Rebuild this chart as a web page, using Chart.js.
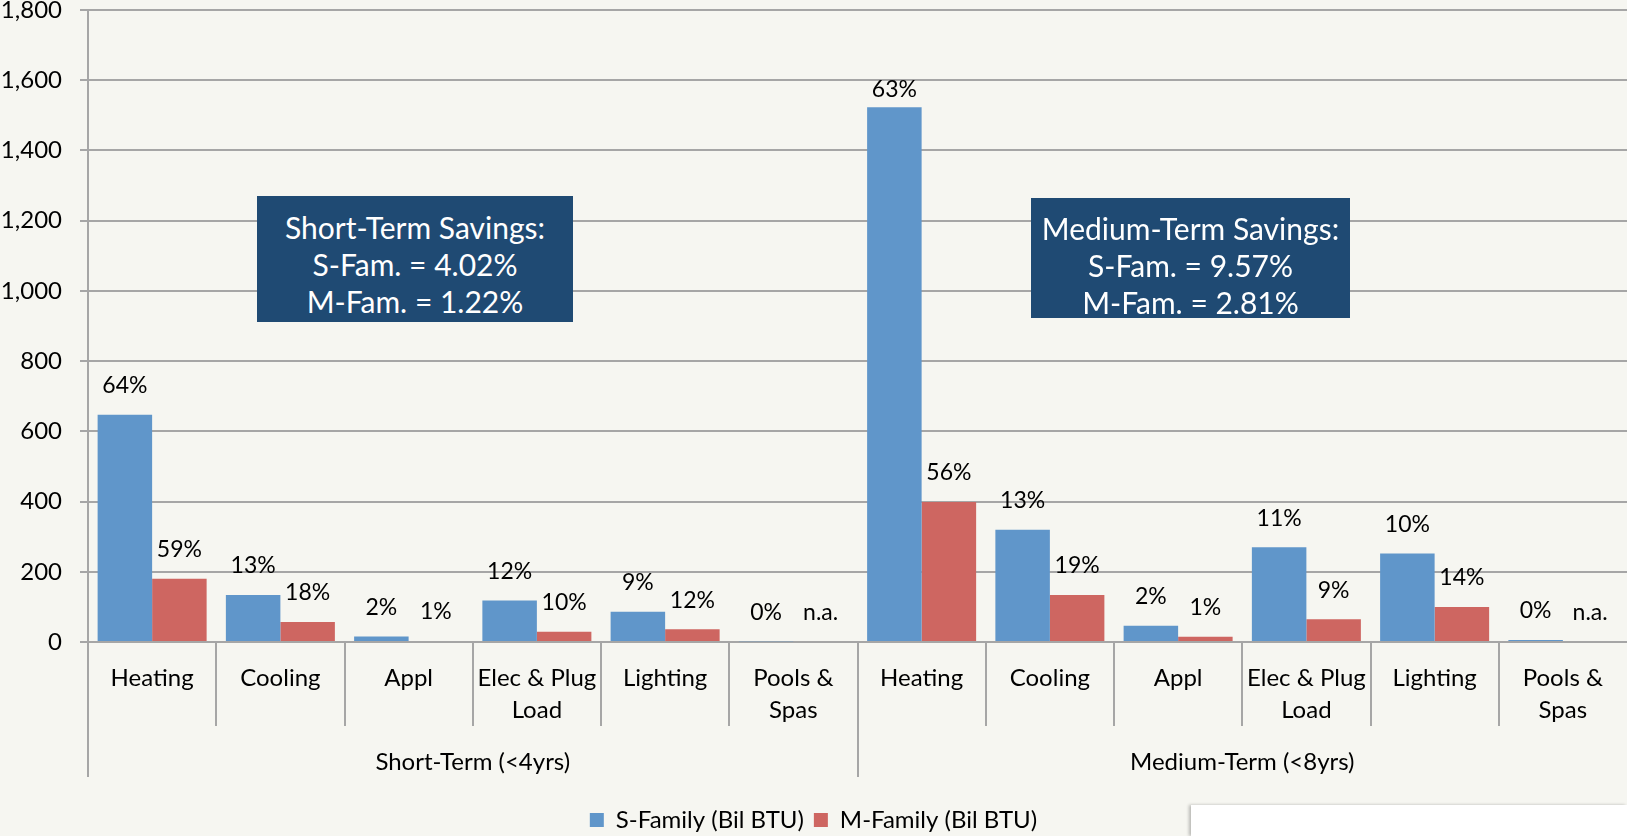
<!DOCTYPE html>
<html lang="en">
<head>
  <meta charset="UTF-8">
  <title>Savings by End Use</title>
  <style>
    body {
      margin: 0;
      background-color: #f6f6f1;
      font-family: Lato, sans-serif;
    }

    .wrap {
      position: relative;
      width: 1627px;
      height: 836px;
    }

    .note {
      position: absolute;
      background-color: #1f4a73;
      color: #fff;
      font-size: 30px;
      line-height: 37px;
      text-align: center;
      box-sizing: border-box;
      padding-top: 13px;
      white-space: nowrap;
    }

    .blank {
      position: absolute;
      left: 1191px;
      top: 805px;
      width: 436px;
      height: 31px;
      background: #fff;
      box-shadow: -2px 0 3px rgba(0, 0, 0, 0.25);
    }
  </style>
</head>
<body>
  <div class="wrap">
    <canvas id="savingsChart"></canvas>
    <div class="note" style="left:257px; top:196px; width:316px; height:126px;">
      Short-Term Savings:<br>S-Fam. = 4.02%<br>M-Fam. = 1.22%
    </div>
    <div class="note" style="left:1031px; top:198px; width:319px; height:120px; padding-top:12px;">
      Medium-Term Savings:<br>S-Fam. = 9.57%<br>M-Fam. = 2.81%
    </div>
    <div class="blank"></div>
  </div>

  <script src="https://cdn.jsdelivr.net/npm/chart.js"></script>
  <script>
    const endUses = ['Heating', 'Cooling', 'Appl', ['Elec & Plug', 'Load'], 'Lighting', ['Pools &', 'Spas']];
    const groups = ['Short-Term (<4yrs)', 'Medium-Term (<8yrs)'];
    const categories = [...endUses, ...endUses];

    // Bil BTU, short-term block then medium-term block
    const sFamily = [647, 134, 16, 118, 86, 2, 1523, 320, 46, 270, 252, 6];
    const mFamily = [180, 57, 3, 29, 36, 0, 399, 134, 15, 65, 100, 0];
    const sPct = ['64%', '13%', '2%', '12%', '9%', '0%', '63%', '13%', '2%', '11%', '10%', '0%'];
    const mPct = ['59%', '18%', '1%', '10%', '12%', 'n.a.', '56%', '19%', '1%', '9%', '14%', 'n.a.'];
    const yTicks = [0, 200, 400, 600, 800, 1000, 1200, 1400, 1600, 1800];

    const FONT = 'Lato';
    const GRID = '#a6a6a6';

    // group separators, group names and bar labels
    const extras = {
      id: 'extras',
      afterDraw(chart) {
        const ctx = chart.ctx;
        const x = chart.scales.x;
        const area = chart.chartArea;
        const n = categories.length;
        const step = (x.right - x.left) / n;

        ctx.save();
        ctx.strokeStyle = GRID;
        ctx.lineWidth = 2;
        for (let i = 0; i < n; i++) {
          const px = Math.round(x.left + i * step);
          const len = i % endUses.length === 0 ? 135 : 84;
          ctx.beginPath();
          ctx.moveTo(px, area.bottom);
          ctx.lineTo(px, area.bottom + len);
          ctx.stroke();
        }

        ctx.fillStyle = '#000';
        ctx.font = '24px ' + FONT;
        ctx.textAlign = 'center';
        ctx.textBaseline = 'middle';
        groups.forEach((g, i) => {
          const cx = x.left + (i + 0.5) * endUses.length * step;
          ctx.fillText(g, cx, area.bottom + 120);
        });

        ctx.font = '23px ' + FONT;
        [sPct, mPct].forEach((labels, d) => {
          const meta = chart.getDatasetMeta(d);
          meta.data.forEach((bar, i) => {
            const ty = Math.max(bar.y - 29, area.top + 80);
            ctx.fillText(labels[i], bar.x, ty);
          });
        });
        ctx.restore();
      }
    };

    const ctx = document.getElementById('savingsChart').getContext('2d');
    new Chart(ctx, {
      type: 'bar',
      data: {
        labels: categories,
        datasets: [{
          label: 'S-Family (Bil BTU)',
          data: sFamily,
          backgroundColor: '#6096ca'
        }, {
          label: 'M-Family (Bil BTU)',
          data: mFamily,
          backgroundColor: '#ce6661'
        }]
      },
      options: {
        responsive: true,
        maintainAspectRatio: false,
        animation: false,
        layout: { padding: { top: 0, right: 0, left: 0, bottom: -6 } },
        datasets: {
          bar: { categoryPercentage: 0.85, barPercentage: 1.0 }
        },
        plugins: {
          legend: {
            position: 'bottom',
            labels: {
              boxWidth: 14,
              boxHeight: 14,
              padding: 10,
              color: '#000',
              font: { family: FONT, size: 24 }
            }
          },
          tooltip: { enabled: false }
        },
        scales: {
          x: {
            afterFit(s) { s.height = 156; },
            grid: { drawOnChartArea: false, drawTicks: false },
            border: { color: GRID, width: 2 },
            ticks: {
              color: '#000',
              padding: 20,
              maxRotation: 0,
              autoSkip: false,
              font: { family: FONT, size: 24, lineHeight: 1.33 }
            }
          },
          y: {
            min: 0,
            max: 1800,
            afterFit(s) {
              s.width = 88;
              s.paddingTop = 10;
              s.paddingBottom = 0;
            },
            afterBuildTicks(s) { s.ticks = yTicks.map(v => ({ value: v })); },
            grid: { color: GRID, lineWidth: 2, tickLength: 8 },
            border: { color: GRID, width: 2 },
            ticks: {
              color: '#000',
              padding: 18,
              font: { family: FONT, size: 24 },
              callback: v => v.toLocaleString('en-US')
            }
          }
        }
      },
      plugins: [extras]
    });
  </script>
</body>
</html>
